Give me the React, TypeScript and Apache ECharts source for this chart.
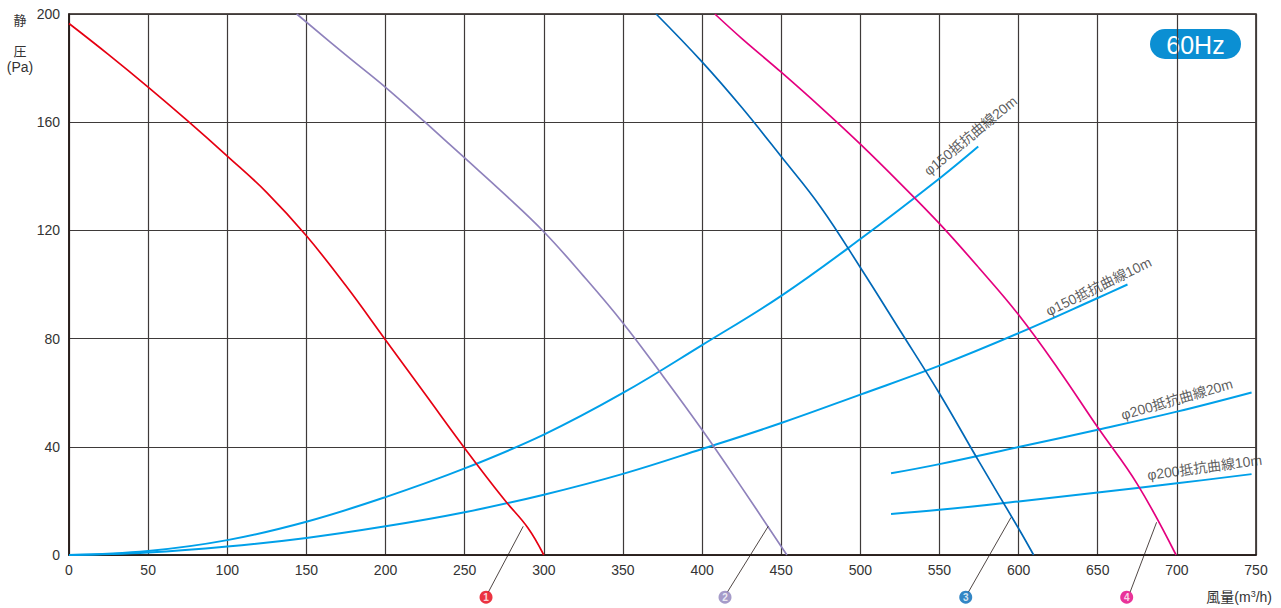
import React, { useEffect, useRef } from "react";
import * as echarts from "echarts";

// Axis ranges
const xMin = 0, xMax = 750, xStep = 50;
const yMin = 0, yMax = 200, yStep = 40;

// Fan curves (風量 m3/h, 静圧 Pa)
const fan1X = [0, 25, 50, 75, 100, 125, 150, 175, 200, 225, 250, 275, 290, 300];
const fan1Y = [196.5, 185, 173, 160.5, 147.5, 134, 118, 99.5, 79.5, 59.5, 39.5, 20.5, 10, 0];

const fan2X = [143.9, 175, 200, 225, 250, 275, 300, 325, 350, 375, 400, 425, 453.6];
const fan2Y = [200, 184.8, 172.9, 160, 146.8, 133.5, 119.5, 103.2, 85.8, 66.4, 46.3, 25, 0];

const fan3X = [371, 400, 425, 450, 475, 500, 525, 550, 575, 600, 609.5];
const fan3Y = [200, 182.3, 165.5, 147.3, 128.6, 106.3, 83.1, 59.7, 34.5, 9.8, 0];

const fan4X = [408.1, 425, 450, 475, 500, 525, 550, 575, 600, 625, 650, 675, 699.5];
const fan4Y = [200, 191, 178.5, 165.5, 151.9, 137.5, 122.5, 106.1, 88.8, 68.8, 47.2, 26.2, 0];

// Resistance curves
const r150_20X = [0, 50, 100, 150, 200, 250, 300, 350, 400, 450, 500, 550, 574.5];
const r150_20Y = [0, 1.5, 5.5, 12.3, 21.4, 32, 44.5, 59.9, 77.6, 95.8, 116.8, 139.2, 151];
const r150_10X = [0, 50, 100, 150, 200, 250, 300, 350, 400, 450, 500, 550, 600, 650, 668.8];
const r150_10Y = [0, 0.9, 3.1, 6.3, 10.6, 15.8, 22.3, 30, 39.2, 48.8, 59.3, 70, 82, 95, 100];
const r200_20X = [519.4, 550, 600, 650, 700, 747.2];
const r200_20Y = [30.2, 33.6, 39.9, 46.3, 53, 60.1];
const r200_10X = [519.4, 550, 600, 650, 700, 747.2];
const r200_10Y = [15.2, 16.7, 19.8, 23.1, 26.5, 29.9];

// Resistance curve labels: text, anchor (x, y), rotation
const resLabels = ["φ150抵抗曲線20m", "φ150抵抗曲線10m", "φ200抵抗曲線20m", "φ200抵抗曲線10m"];
const resLabelX = [569.5, 650.5, 700, 717.5];
const resLabelY = [155, 99.3, 57.6, 32.4];
const resLabelRot = [39.5, 26, 16, 7.5];

// Callouts: curve point -> numbered marker below axis
const calloutNums = ["1", "2", "3", "4"];
const calloutFromX = [287, 441.8, 595.2, 687.2];
const calloutFromY = [10.6, 10.6, 13.9, 12.1];
const calloutToX = [264.9, 415.9, 568.2, 670.4];
const calloutToY = [-13.8, -13.8, -13.8, -13.8];
const markerX = [263.5, 414.5, 566.6, 668.3];
const markerY = [-15.6, -15.6, -15.6, -15.6];

const fanColors = ["#e60012", "#8f82bc", "#0068b7", "#e4007f"];
const resColor = "#00a0e9";
const textColor = "#333333";
const FONT = "'Liberation Sans', Arial, 'Noto Sans CJK JP', sans-serif";

const zip = (xs: number[], ys: number[]) => xs.map((x, i) => [x, ys[i]]);

export default function App() {
  const ref = useRef<HTMLDivElement>(null);

  useEffect(() => {
    if (!ref.current) return;
    const chart = echarts.init(ref.current, undefined, { renderer: "svg" });

    const fanData = [zip(fan1X, fan1Y), zip(fan2X, fan2Y), zip(fan3X, fan3Y), zip(fan4X, fan4Y)];
    const resData = [
      zip(r150_20X, r150_20Y),
      zip(r150_10X, r150_10Y),
      zip(r200_20X, r200_20Y),
      zip(r200_10X, r200_10Y),
    ];

    const series: any[] = [];
    resData.forEach((d, i) => {
      series.push({
        type: "line",
        name: resLabels[i],
        data: d,
        smooth: 0.4,
        symbol: "none",
        lineStyle: { color: resColor, width: 2 },
        z: 3,
      });
    });
    fanData.forEach((d, i) => {
      series.push({
        type: "line",
        name: "fan" + (i + 1),
        data: d,
        smooth: 0.4,
        symbol: "none",
        lineStyle: { color: fanColors[i], width: 1.7 },
        z: 4,
      });
    });
    // Callout lines
    calloutNums.forEach((n, i) => {
      series.push({
        type: "line",
        name: "callout" + n,
        data: [
          [calloutFromX[i], calloutFromY[i]],
          [calloutToX[i], calloutToY[i]],
        ],
        clip: false,
        symbol: "none",
        lineStyle: { color: "#231815", width: 0.8 },
        z: 5,
      });
    });
    // Numbered markers
    series.push({
      type: "scatter",
      name: "markers",
      clip: false,
      symbolSize: 13,
      data: markerX.map((x, i) => ({
        value: [x, markerY[i]],
        itemStyle: { color: fanColors[i] },
        label: {
          show: true,
          formatter: calloutNums[i],
          position: "inside",
          color: "#ffffff",
          fontSize: 10,
          fontWeight: "bold",
          fontFamily: FONT,
        },
      })),
      z: 6,
    });
    // Resistance curve labels
    series.push({
      type: "scatter",
      name: "resLabels",
      clip: false,
      symbolSize: 0,
      data: resLabelX.map((x, i) => ({
        value: [x, resLabelY[i]],
        label: {
          show: true,
          formatter: resLabels[i],
          position: "inside",
          rotate: resLabelRot[i],
          color: textColor,
          fontSize: 14,
          fontFamily: FONT,
        },
      })),
      z: 6,
    });

    chart.setOption({
      animation: false,
      backgroundColor: "#ffffff",
      grid: {
        left: 69,
        right: 25,
        top: 14,
        bottom: 53,
        show: true,
        borderColor: "#231815",
        borderWidth: 1.5,
        backgroundColor: "transparent",
      },
      xAxis: {
        type: "value",
        min: xMin,
        max: xMax,
        interval: xStep,
        axisLine: { show: true, lineStyle: { color: "#231815", width: 1.5 } },
        axisTick: { show: false },
        axisLabel: { color: textColor, fontSize: 14, fontFamily: FONT, margin: 8 },
        splitLine: { show: true, lineStyle: { color: "#3e3a39", width: 1.2 } },
      },
      yAxis: {
        type: "value",
        min: yMin,
        max: yMax,
        interval: yStep,
        axisLine: { show: true, lineStyle: { color: "#231815", width: 1.5 } },
        axisTick: { show: false },
        axisLabel: { color: textColor, fontSize: 14, fontFamily: FONT, margin: 9 },
        splitLine: { show: true, lineStyle: { color: "#3e3a39", width: 1.2 } },
      },
      graphic: [
        {
          type: "text", x: 20, y: 19,
          style: { text: "静", fill: textColor, fontSize: 13, fontFamily: "Noto Sans CJK JP", align: "center", verticalAlign: "middle" },
        },
        {
          type: "text", x: 20, y: 50,
          style: { text: "圧", fill: textColor, fontSize: 13, fontFamily: "Noto Sans CJK JP", align: "center", verticalAlign: "middle" },
        },
        {
          type: "text", x: 20, y: 67,
          style: { text: "(Pa)", fill: textColor, fontSize: 14, fontFamily: "Liberation Sans", align: "center", verticalAlign: "middle" },
        },
        {
          type: "text",
          x: 1272,
          y: 597,
          style: {
            text: "風量(m{sup|3}/h)",
            fill: textColor,
            fontSize: 14,
            fontFamily: FONT,
            align: "right",
            verticalAlign: "middle",
            rich: {
              sup: { fontSize: 9, verticalAlign: "top", padding: [0, 0, 6, 0], fill: textColor, fontFamily: "Liberation Sans" },
            },
          },
        },
        {
          type: "group",
          x: 1150,
          y: 29,
          children: [
            { type: "rect", shape: { x: 0, y: 0, width: 91, height: 30, r: 15 }, style: { fill: "#0b8fd3" } },
            {
              type: "text",
              x: 45.5,
              y: 15.5,
              style: {
                text: "60Hz",
                fill: "#ffffff",
                fontSize: 25,
                fontFamily: "Liberation Sans",
                align: "center",
                verticalAlign: "middle",
              },
            },
          ],
        },
      ],
      series,
    });

    return () => chart.dispose();
  }, []);

  return (
    <div
      ref={ref}
      style={{ position: "absolute", left: 0, top: 0, width: 1281, height: 608, background: "#fff" }}
    />
  );
}
